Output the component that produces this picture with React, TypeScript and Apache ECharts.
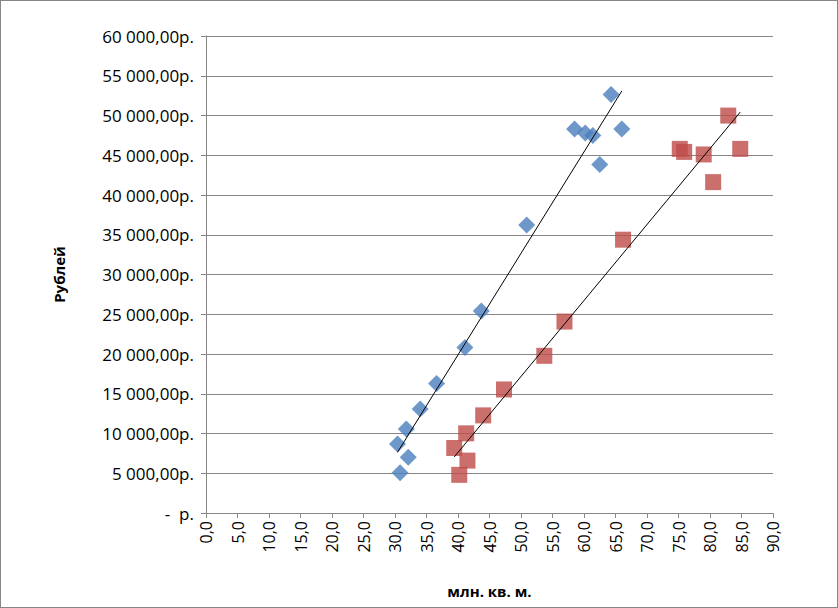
import React, { useEffect, useRef } from "react";
import * as echarts from "echarts";

const blueX = [64.3, 58.5, 60.2, 61.4, 66.0, 62.5, 50.9, 43.7, 41.1, 36.6, 34.0, 31.8, 30.4, 32.1, 30.8];
const blueY = [52630, 48310, 47810, 47480, 48310, 43840, 36220, 25420, 20820, 16300, 13080, 10570, 8690, 7010, 5050];
const redX = [82.9, 75.2, 75.9, 79.0, 84.8, 80.5, 66.2, 56.9, 53.7, 47.3, 44.0, 41.3, 39.4, 41.5, 40.2];
const redY = [49990, 45800, 45420, 45100, 45800, 41620, 34380, 24080, 19770, 15540, 12280, 10020, 8180, 6590, 4800];

function trend(xs: number[], ys: number[]) {
  const n = xs.length;
  const mx = xs.reduce((a, b) => a + b, 0) / n;
  const my = ys.reduce((a, b) => a + b, 0) / n;
  let sxy = 0, sxx = 0;
  for (let i = 0; i < n; i++) { sxy += (xs[i] - mx) * (ys[i] - my); sxx += (xs[i] - mx) ** 2; }
  const b = sxy / sxx, a = my - b * mx;
  const x0 = Math.min(...xs), x1 = Math.max(...xs);
  return [[x0, a + b * x0], [x1, a + b * x1]];
}

const fmtY = (v: number) => {
  if (v === 0) return " -  р.";
  const s = String(Math.round(v)).replace(/\B(?=(\d{3})+(?!\d))/g, " ");
  return s + ",00р.";
};

export default function App() {
  const ref = useRef<HTMLDivElement>(null);
  useEffect(() => {
    document.body.style.margin = "0";
    const chart = echarts.init(ref.current!, null, { renderer: "svg" });
    const font = "Open Sans";
    chart.setOption({
      animation: false,
      textStyle: { fontFamily: font },
      grid: { left: 205, right: 64, top: 35, bottom: 94 },
      xAxis: {
        type: "value", min: 0, max: 90, interval: 5,
        name: "млн. кв. м.", nameLocation: "middle", nameGap: 70,
        nameTextStyle: { fontWeight: "bold", fontSize: 15, color: "#000", fontFamily: font },
        axisLine: { lineStyle: { color: "#868686" } },
        axisTick: { show: true, lineStyle: { color: "#868686" }, length: 5 },
        splitLine: { show: false },
        axisLabel: { rotate: 90, color: "#000", fontSize: 16, margin: 8, formatter: (v: number) => v.toFixed(1).replace(".", ",") },
      },
      yAxis: {
        type: "value", min: 0, max: 60000, interval: 5000,
        name: "Рублей", nameLocation: "middle", nameGap: 140, nameRotate: 90,
        nameTextStyle: { fontWeight: "bold", fontSize: 15, color: "#000", fontFamily: font },
        axisLine: { show: true, lineStyle: { color: "#868686" } },
        axisTick: { show: true, lineStyle: { color: "#868686" }, length: 5 },
        splitLine: { lineStyle: { color: "#868686" } },
        axisLabel: { color: "#000", fontSize: 17, margin: 12, formatter: fmtY },
      },
      series: [
        { type: "scatter", symbol: "diamond", symbolSize: 17, itemStyle: { color: "#4a7ebb" }, data: blueX.map((x, i) => [x, blueY[i]]), z: 3 },
        { type: "scatter", symbol: "rect", symbolSize: 16, itemStyle: { color: "#be4b48" }, data: redX.map((x, i) => [x, redY[i]]), z: 3 },
        { type: "line", data: trend(blueX, blueY), symbol: "none", lineStyle: { color: "#000", width: 1 }, z: 4 },
        { type: "line", data: trend(redX, redY), symbol: "none", lineStyle: { color: "#000", width: 1 }, z: 4 },
      ],
    });
    return () => chart.dispose();
  }, []);
  return (
    <div style={{ width: 838, height: 608, position: "relative", boxSizing: "border-box", border: "1px solid #868686", background: "#fff" }}>
      <div ref={ref} style={{ width: 836, height: 606 }} />
    </div>
  );
}
